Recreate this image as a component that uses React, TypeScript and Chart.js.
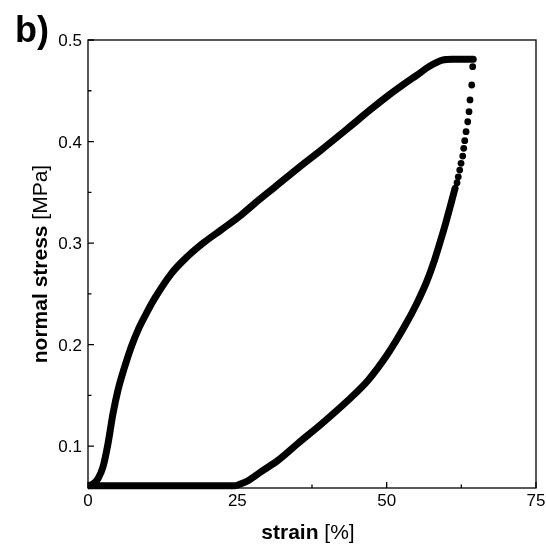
import { useEffect, useRef } from "react";
import { Chart, registerables } from "chart.js";

Chart.register(...registerables);

// loading branch (strain %, stress MPa)
const loadStrain = [0, 0.8, 1.67, 2.51, 3.35, 4.19, 5.02, 6.14, 7.25, 8.37, 9.77, 11.16, 13.95, 16.7, 19.5, 22.3, 25.7, 27.9, 31.25, 35.2, 39.1, 43.5, 47.4, 50.2, 53.0, 55.2, 57.0, 58.2, 59.3, 61.0, 64.5];
const loadStress = [0.061, 0.0625, 0.068, 0.0796, 0.1026, 0.1322, 0.1552, 0.1782, 0.1979, 0.2143, 0.2307, 0.2455, 0.27, 0.287, 0.301, 0.313, 0.328, 0.339, 0.355, 0.374, 0.392, 0.413, 0.432, 0.445, 0.457, 0.466, 0.4735, 0.4775, 0.4802, 0.481, 0.481];

// first part of unloading: separate sparse points
const unloadTopStrain = [64.4, 64.24, 63.95, 63.79, 63.57, 63.29, 63.07, 62.9, 62.73, 62.45, 62.23, 61.99, 61.78];
const unloadTopStress = [0.4737, 0.4557, 0.441, 0.4294, 0.4195, 0.4097, 0.4009, 0.3933, 0.3857, 0.3785, 0.3719, 0.3653, 0.3594];

// rest of unloading: dense points
const unloadStrain = [61.45, 61.0, 60.5, 59.8, 59.0, 58.0, 56.7, 55.0, 53.0, 50.2, 46.9, 43.5, 39.1, 35.2, 31.8, 29.0, 26.8, 25.4, 24.5, 12, 0];
const unloadStress = [0.354, 0.344, 0.333, 0.318, 0.302, 0.283, 0.262, 0.24, 0.218, 0.191, 0.165, 0.145, 0.122, 0.103, 0.086, 0.075, 0.066, 0.0625, 0.061, 0.061, 0.061];

const xTicks = [0, 25, 50, 75];
const xTickLabels = ["0", "25", "50", "75"];
const xMinorTicks = [12.5, 37.5, 62.5];
const yTicks = [0.1, 0.2, 0.3, 0.4, 0.5];
const yTickLabels = ["0.1", "0.2", "0.3", "0.4", "0.5"];
const yMinorTicks = [0.15, 0.25, 0.35, 0.45];

const xTitleBold = "strain";
const xTitleRest = " [%]";
const yTitleBold = "normal stress";
const yTitleRest = " [MPa]";
const panelLabel = "b)";

const FONT = "'Liberation Sans', Arial, Helvetica, sans-serif";

function drawMixed(ctx: CanvasRenderingContext2D, parts: [string, string][], cx: number, y: number) {
  let total = 0;
  const widths = parts.map(([t, f]) => {
    ctx.font = f;
    const w = ctx.measureText(t).width;
    total += w;
    return w;
  });
  let x = cx - total / 2;
  ctx.textAlign = "left";
  parts.forEach(([t, f], i) => {
    ctx.font = f;
    ctx.fillText(t, x, y);
    x += widths[i];
  });
}

const framePlugin = {
  id: "frame",
  afterDraw(chart: any) {
    const { ctx, chartArea: a, scales } = chart;
    const xs = scales.x;
    const ys = scales.y;
    ctx.save();
    ctx.strokeStyle = "#000";
    ctx.lineWidth = 1.3;
    ctx.strokeRect(a.left, a.top, a.right - a.left, a.bottom - a.top);
    ctx.beginPath();
    xTicks.forEach((v) => {
      const p = xs.getPixelForValue(v);
      ctx.moveTo(p, a.bottom);
      ctx.lineTo(p, a.bottom - 6);
    });
    xMinorTicks.forEach((v) => {
      const p = xs.getPixelForValue(v);
      ctx.moveTo(p, a.bottom);
      ctx.lineTo(p, a.bottom - 3.5);
    });
    yTicks.forEach((v) => {
      const p = ys.getPixelForValue(v);
      ctx.moveTo(a.left, p);
      ctx.lineTo(a.left + 6, p);
    });
    yMinorTicks.forEach((v) => {
      const p = ys.getPixelForValue(v);
      ctx.moveTo(a.left, p);
      ctx.lineTo(a.left + 3.5, p);
    });
    ctx.stroke();

    ctx.fillStyle = "#000";
    ctx.font = `17px ${FONT}`;
    ctx.textBaseline = "alphabetic";
    ctx.textAlign = "center";
    xTicks.forEach((v, i) => {
      ctx.fillText(xTickLabels[i], xs.getPixelForValue(v), a.bottom + 18);
    });
    ctx.textAlign = "right";
    yTicks.forEach((v, i) => {
      ctx.fillText(yTickLabels[i], a.left - 6, ys.getPixelForValue(v) + 6);
    });

    drawMixed(ctx, [[xTitleBold, `bold 21px ${FONT}`], [xTitleRest, `21px ${FONT}`]], 308, 539);

    ctx.save();
    ctx.translate(47, (a.top + a.bottom) / 2);
    ctx.rotate(-Math.PI / 2);
    drawMixed(ctx, [[yTitleBold, `bold 21px ${FONT}`], [yTitleRest, `21px ${FONT}`]], 0, 0);
    ctx.restore();

    ctx.font = `bold 36px ${FONT}`;
    ctx.textAlign = "left";
    ctx.fillText(panelLabel, 15, 42);
    ctx.restore();
  },
};

export default function App() {
  const ref = useRef<HTMLCanvasElement | null>(null);
  useEffect(() => {
    if (!ref.current) return;
    const pts = (xs: number[], ys: number[]) => xs.map((x, i) => ({ x, y: ys[i] }));
    const lineStyle = {
      showLine: true,
      borderColor: "#000",
      backgroundColor: "#000",
      borderWidth: 7,
      pointRadius: 0,
      cubicInterpolationMode: "monotone",
      borderCapStyle: "round",
      borderJoinStyle: "round",
      clip: { left: 0, top: 6, right: 6, bottom: 2 },
    };
    const chart = new Chart(ref.current, {
      type: "scatter",
      data: {
        datasets: [
          { label: "loading", data: pts(loadStrain, loadStress), ...lineStyle },
          {
            label: "unloading (sparse)",
            data: pts(unloadTopStrain, unloadTopStress),
            showLine: false,
            backgroundColor: "#000",
            borderWidth: 0,
            pointRadius: 3.4,
          },
          { label: "unloading", data: pts(unloadStrain, unloadStress), ...lineStyle },
        ],
      } as any,
      options: {
        animation: false,
        responsive: false,
        maintainAspectRatio: false,
        layout: { padding: { left: 88, top: 40, right: 10, bottom: 56 } },
        plugins: { legend: { display: false }, tooltip: { enabled: false } },
        scales: {
          x: { type: "linear", min: 0, max: 75, display: false },
          y: { type: "linear", min: 0.0588, max: 0.5, display: false },
        },
      } as any,
      plugins: [framePlugin],
    });
    return () => chart.destroy();
  }, []);
  return (
    <div style={{ position: "absolute", left: 0, top: 0, width: 546, height: 544, background: "#fff" }}>
      <canvas ref={ref} width={546} height={544} style={{ display: "block", width: 546, height: 544 }} />
    </div>
  );
}
